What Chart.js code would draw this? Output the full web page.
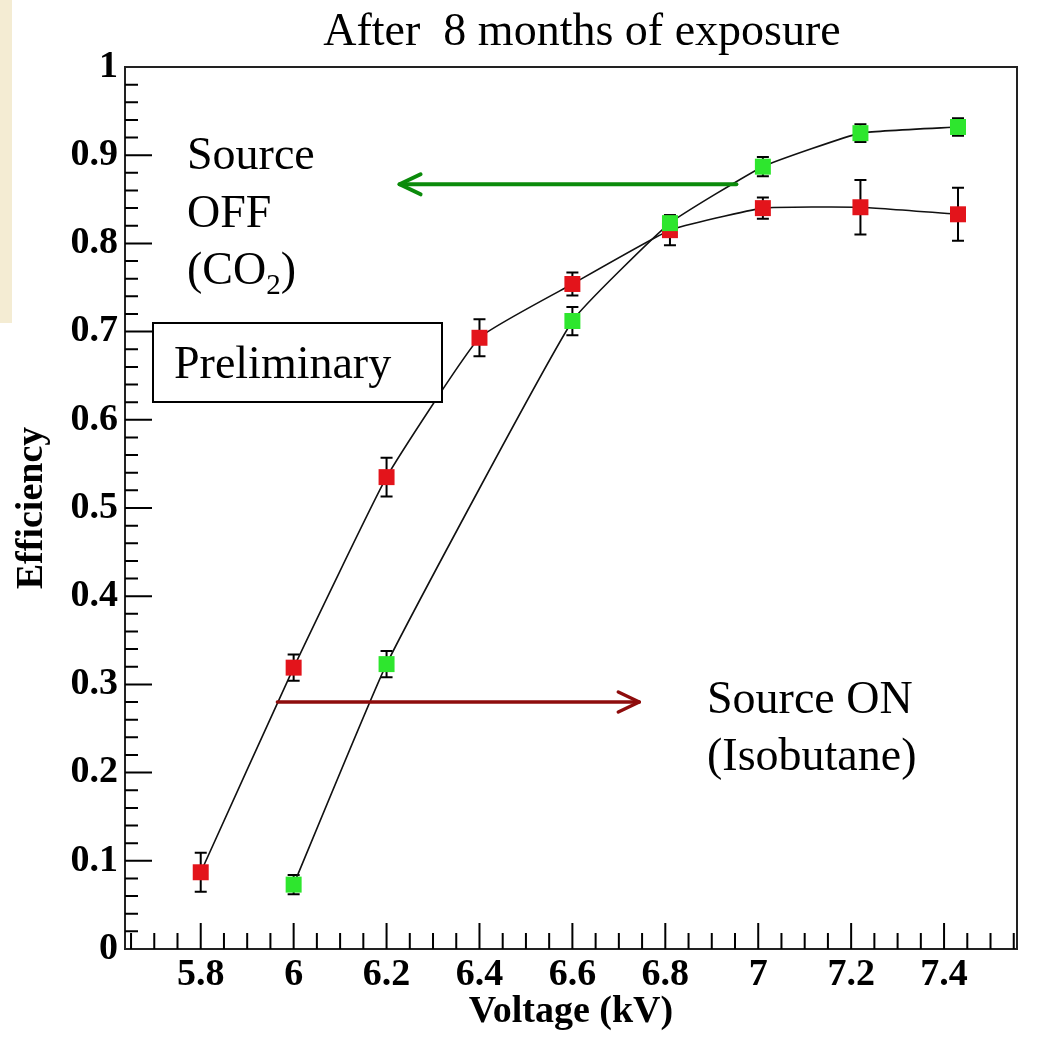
<!DOCTYPE html>
<html><head><meta charset="utf-8">
<script src="https://cdn.jsdelivr.net/npm/chart.js@4.4.1/dist/chart.umd.min.js"></script>
<style>
html,body{margin:0;padding:0;background:#fff;}
#wrap{position:relative;width:1037px;height:1041px;overflow:hidden;}
#beige{position:absolute;left:0;top:0;width:12px;height:323px;background:#f4ecd3;}
canvas{position:absolute;left:0;top:0;}
</style></head><body>
<div id="wrap"><div id="beige"></div><canvas id="c" width="1037" height="1041"></canvas></div>
<script>
// ---- data ----
const voltageOn = [5.8, 6.0, 6.2, 6.4, 6.6, 6.81, 7.01, 7.22, 7.43];
const effOn     = [0.087, 0.319, 0.535, 0.693, 0.754, 0.815, 0.840, 0.841, 0.833];
const errOn     = [0.022, 0.015, 0.022, 0.021, 0.013, 0.017, 0.012, 0.031, 0.030];
const voltageOff = [6.0, 6.2, 6.6, 6.81, 7.01, 7.22, 7.43];
const effOff     = [0.073, 0.323, 0.712, 0.823, 0.887, 0.925, 0.932];
const errOff     = [0.011, 0.015, 0.016, 0.009, 0.011, 0.010, 0.010];
const xTickValues = [5.8, 6.0, 6.2, 6.4, 6.6, 6.8, 7.0, 7.2, 7.4];
const xTickLabels = ['5.8', '6', '6.2', '6.4', '6.6', '6.8', '7', '7.2', '7.4'];
const yTickValues = [0, 0.1, 0.2, 0.3, 0.4, 0.5, 0.6, 0.7, 0.8, 0.9, 1];
const yTickLabels = ['0', '0.1', '0.2', '0.3', '0.4', '0.5', '0.6', '0.7', '0.8', '0.9', '1'];
const titleText = 'After  8 months of exposure';
const xTitle = 'Voltage (kV)';
const yTitle = 'Efficiency';

const SERIF = '"Liberation Serif", "Times New Roman", serif';
const tickFont = {family: SERIF, size: 38, weight: 'bold'};
const X_MIN = 5.637, X_MAX = 7.557;

function pts(xs, ys){ return xs.map((x, i) => ({x: x, y: ys[i]})); }

function drawErr(ctx, xs, ys, es, xS, yS){
  ctx.save();
  ctx.strokeStyle = '#000'; ctx.lineWidth = 2;
  for (let i = 0; i < xs.length; i++){
    const px = xS.getPixelForValue(xs[i]);
    const t = yS.getPixelForValue(ys[i] + es[i]);
    const b = yS.getPixelForValue(ys[i] - es[i]);
    ctx.beginPath();
    ctx.moveTo(px, t); ctx.lineTo(px, b);
    ctx.moveTo(px - 6, t); ctx.lineTo(px + 6, t);
    ctx.moveTo(px - 6, b); ctx.lineTo(px + 6, b);
    ctx.stroke();
  }
  ctx.restore();
}

function arrow(ctx, x1, y1, x2, y2, color, w){
  const dir = Math.sign(x2 - x1);
  ctx.save();
  ctx.strokeStyle = color; ctx.lineWidth = w; ctx.lineCap = 'round'; ctx.lineJoin = 'round';
  ctx.beginPath(); ctx.moveTo(x1, y1); ctx.lineTo(x2, y2); ctx.stroke();
  ctx.beginPath();
  ctx.moveTo(x2 - dir * 21, y2 - 10); ctx.lineTo(x2, y2); ctx.lineTo(x2 - dir * 21, y2 + 10);
  ctx.stroke();
  ctx.restore();
}

const decor = {
  id: 'decor',
  beforeDatasetsDraw(chart){
    const {ctx, scales: {x, y}} = chart;
    drawErr(ctx, voltageOn, effOn, errOn, x, y);
    drawErr(ctx, voltageOff, effOff, errOff, x, y);
  },
  afterDatasetsDraw(chart){
    const {ctx, chartArea: a, scales: {x, y}} = chart;
    ctx.save();
    // frame
    ctx.strokeStyle = '#222'; ctx.lineWidth = 2;
    ctx.strokeRect(a.left, a.top, a.right - a.left, a.bottom - a.top);
    // ticks
    ctx.strokeStyle = '#000'; ctx.lineWidth = 2;
    ctx.beginPath();
    for (let i = 1; i < 50; i++){
      const v = i * 0.02;
      const py = y.getPixelForValue(v);
      const len = (i % 5 === 0) ? 27 : 13;
      ctx.moveTo(a.left, py); ctx.lineTo(a.left + len, py);
    }
    for (let i = 0; i < 40; i++){
      const v = 5.65 + i * 0.05;
      if (v > X_MAX) break;
      const px = x.getPixelForValue(v);
      const major = Math.abs(Math.round(v * 5) - v * 5) < 1e-6;
      const len = major ? 26 : 16;
      ctx.moveTo(px, a.bottom); ctx.lineTo(px, a.bottom - len);
    }
    ctx.stroke();

    // arrows
    arrow(ctx, x.getPixelForValue(6.953), y.getPixelForValue(0.867),
               x.getPixelForValue(6.228), y.getPixelForValue(0.867), '#0b8b0b', 4);
    arrow(ctx, x.getPixelForValue(5.965), y.getPixelForValue(0.280),
               x.getPixelForValue(6.744), y.getPixelForValue(0.280), '#8e0c0c', 3.5);

    // Preliminary box
    ctx.fillStyle = '#fff';
    ctx.fillRect(153, 323, 289, 79);
    ctx.strokeStyle = '#000'; ctx.lineWidth = 2;
    ctx.strokeRect(153, 323, 289, 79);

    ctx.fillStyle = '#000';
    ctx.textBaseline = 'alphabetic';
    ctx.textAlign = 'left';
    ctx.font = '46px ' + SERIF;
    ctx.fillText('Preliminary', 174, 378);
    ctx.fillText('Source', 187, 169);
    ctx.fillText('OFF', 187, 227);
    let cx = 187;
    ctx.fillText('(CO', cx, 284);
    cx += ctx.measureText('(CO').width;
    ctx.font = '29px ' + SERIF;
    ctx.fillText('2', cx, 294);
    cx += ctx.measureText('2').width;
    ctx.font = '46px ' + SERIF;
    ctx.fillText(')', cx, 284);
    ctx.fillText('Source ON', 707, 713);
    ctx.fillText('(Isobutane)', 707, 770);

    ctx.textAlign = 'center';
    ctx.fillText(titleText, (a.left + a.right) / 2 + 11, 45);
    ctx.restore();
  }
};

new Chart(document.getElementById('c'), {
  type: 'line',
  data: {
    datasets: [
      {
        label: 'Source OFF (CO2)',
        data: pts(voltageOff, effOff),
        order: 0,
        borderColor: '#111', borderWidth: 1.6, tension: 0.12, fill: false,
        pointStyle: 'rect', pointRadius: 11.3, pointHoverRadius: 11.3,
        pointBackgroundColor: '#2ee62e', pointBorderWidth: 0, pointHoverBorderWidth: 0
      },
      {
        label: 'Source ON (Isobutane)',
        data: pts(voltageOn, effOn),
        order: 1,
        borderColor: '#111', borderWidth: 1.6, tension: 0.12, fill: false,
        pointStyle: 'rect', pointRadius: 11.3, pointHoverRadius: 11.3,
        pointBackgroundColor: '#e3141b', pointBorderWidth: 0, pointHoverBorderWidth: 0
      }
    ]
  },
  options: {
    responsive: false,
    animation: false,
    events: [],
    layout: {padding: {left: 0, top: 67, right: 20, bottom: 0}},
    plugins: {legend: {display: false}, tooltip: {enabled: false}, title: {display: false}},
    scales: {
      x: {
        type: 'linear', min: X_MIN, max: X_MAX,
        afterBuildTicks: s => { s.ticks = xTickValues.map(v => ({value: v})); },
        afterFit: s => { s.height = 92; },
        ticks: {callback: (v, i) => xTickLabels[i], font: tickFont, color: '#000', padding: 3, maxRotation: 0, autoSkip: false},
        grid: {display: false, drawTicks: false},
        border: {display: false},
        title: {display: true, text: xTitle, font: tickFont, color: '#000', padding: {top: 0, bottom: 6}}
      },
      y: {
        type: 'linear', min: 0, max: 1,
        afterBuildTicks: s => { s.ticks = yTickValues.map(v => ({value: v})); },
        afterFit: s => { s.width = 125; },
        ticks: {callback: (v, i) => yTickLabels[i], font: tickFont, color: '#000', padding: 7, autoSkip: false},
        grid: {display: false, drawTicks: false},
        border: {display: false},
        title: {display: true, text: yTitle, font: tickFont, color: '#000', padding: {top: 9, bottom: 0}}
      }
    }
  },
  plugins: [decor]
});
</script>
</body></html>
